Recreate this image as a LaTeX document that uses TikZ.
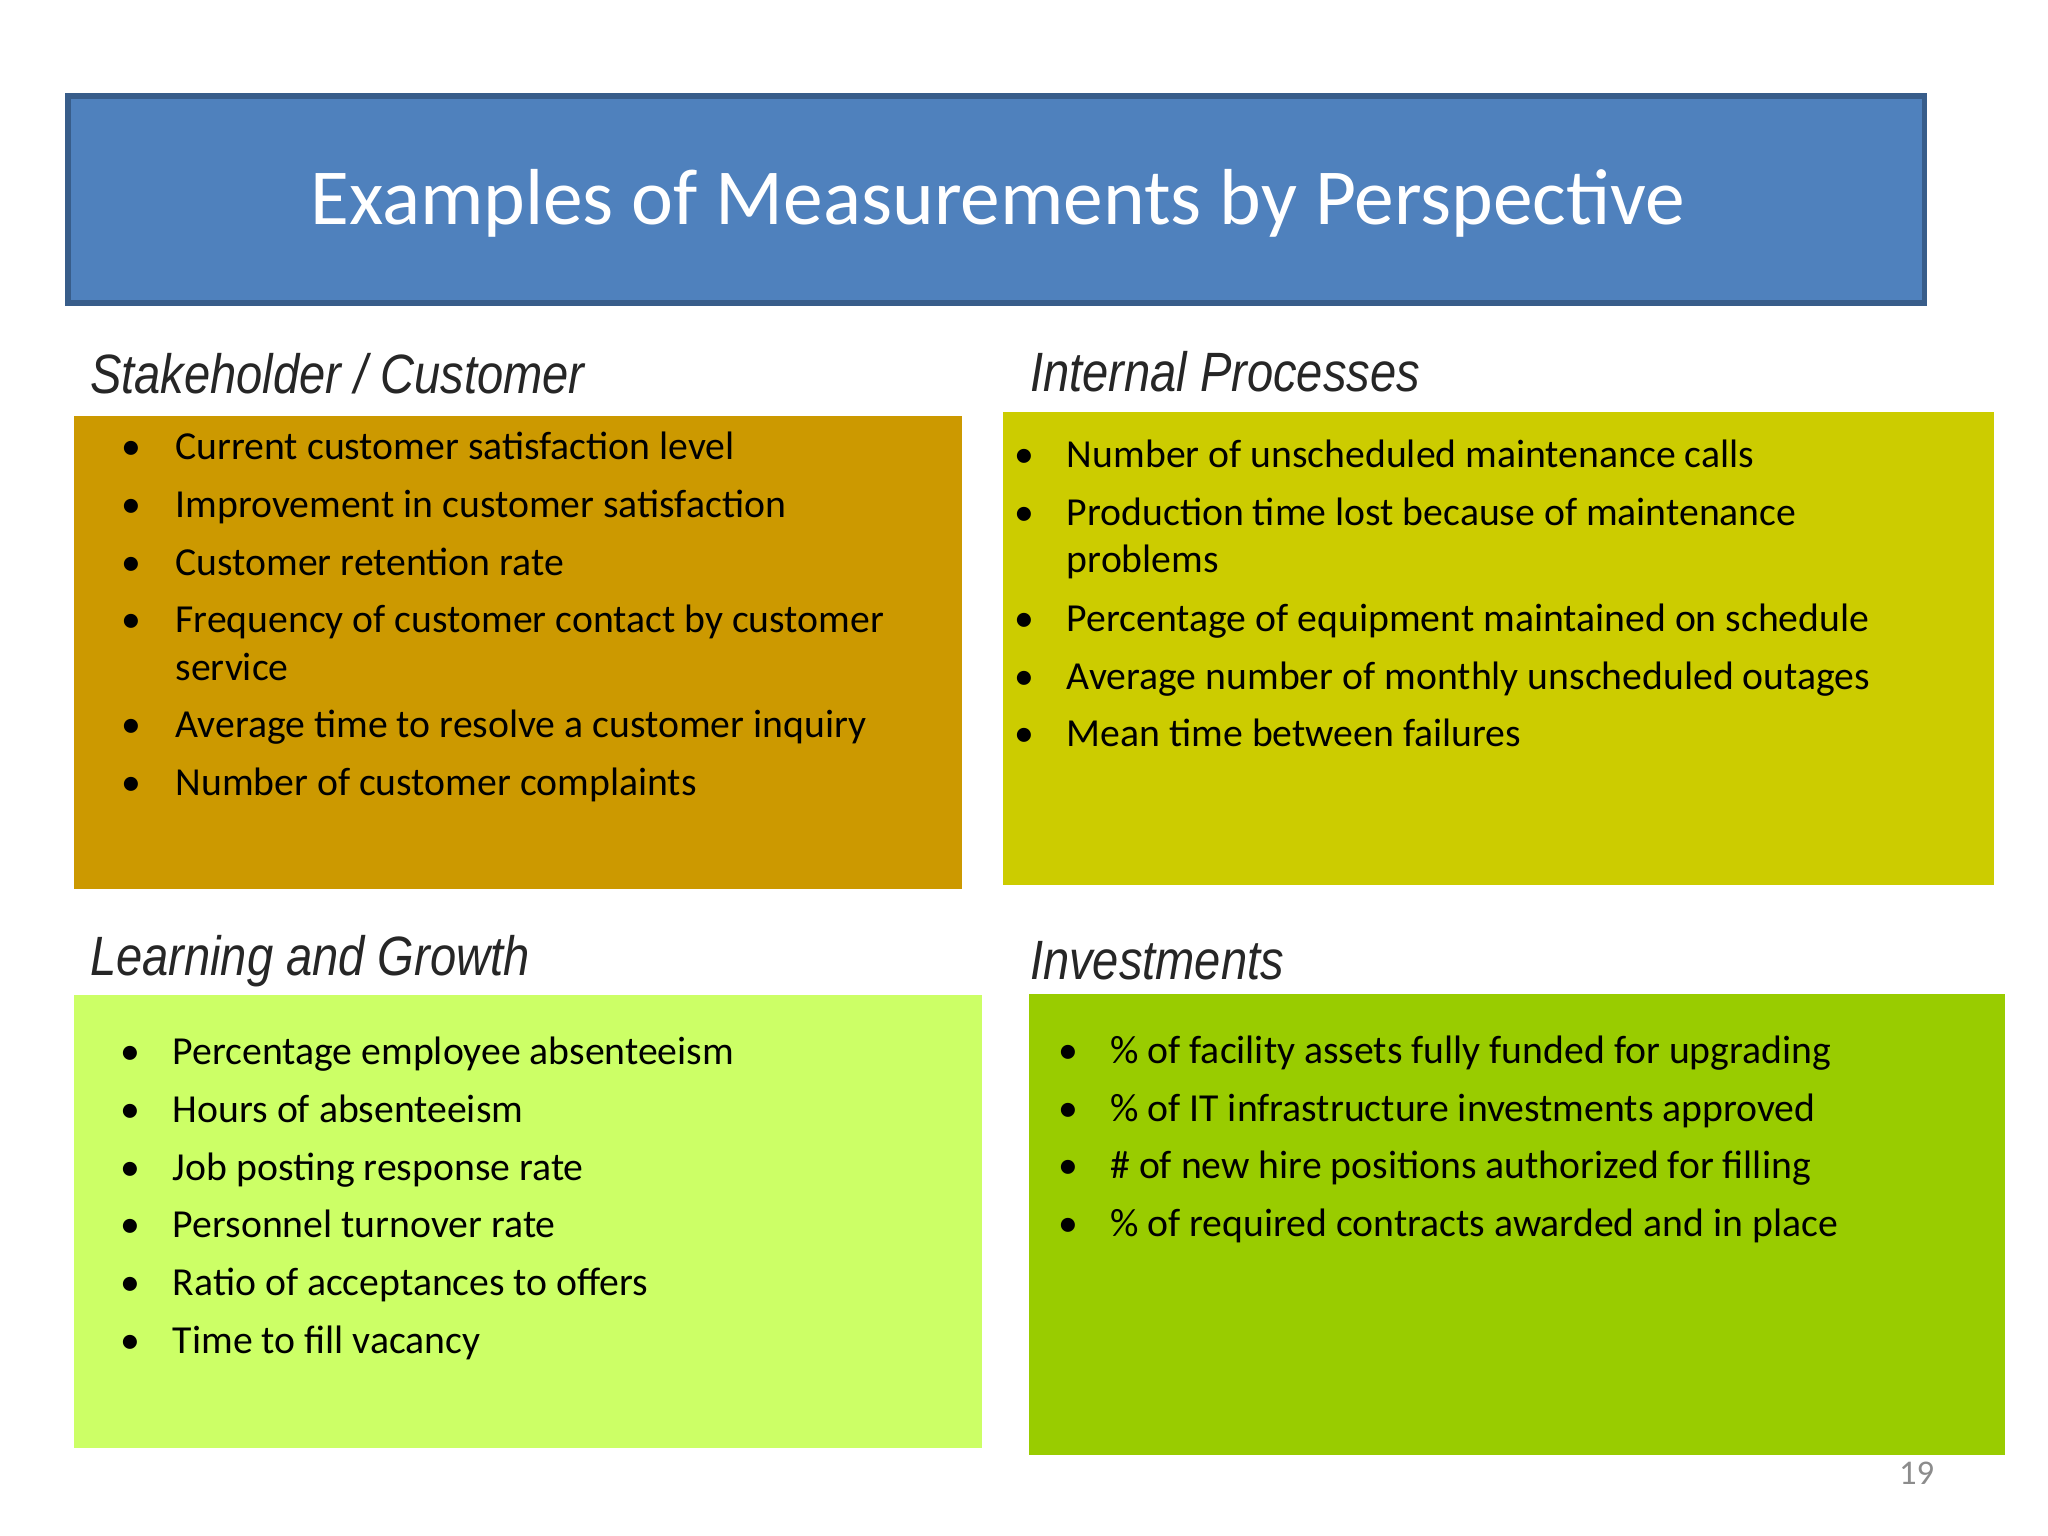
\documentclass[tikz,border=0pt]{standalone}
\usepackage{fontspec}
\setmainfont{Carlito}
\newfontfamily\headfont{Liberation Sans}
\usetikzlibrary{positioning,calc}
\definecolor{titleblue}{HTML}{4F81BD}
\definecolor{titleedge}{HTML}{385D8A}
\definecolor{goldbox}{HTML}{CC9900}
\definecolor{olivebox}{HTML}{CCCC00}
\definecolor{limebox}{HTML}{CCFF66}
\definecolor{greenbox}{HTML}{99CC00}
\tikzset{
  panel/.style={draw=none, fill=#1},
  heading/.style={anchor=base west, inner sep=0pt, font=\headfont\itshape\fontsize{12}{14}\selectfont, text=black!85, xscale=0.85},
  item/.style={anchor=base west, inner sep=0pt, font=\fontsize{8.6}{10.4}\selectfont},
  dot/.style={anchor=base, inner sep=0pt, font=\fontsize{8.6}{10.4}\selectfont}
}
\begin{document}
\begin{tikzpicture}[x=0.01cm,y=-0.01cm]
\useasboundingbox (0,0) rectangle (1560,1170);
\fill[white] (0,0) rectangle (1560,1170);

% title bar
\draw[titleedge, line width=1.2pt, fill=titleblue] (52,73) rectangle (1466,231);
\node[text=white, font=\fontsize{17.2}{20}\selectfont] (title) at (760,155) {Examples of Measurements by Perspective};

% panels
\fill[panel=goldbox] (56,317) rectangle (733,677);
\fill[panel=olivebox] (764,314) rectangle (1519,674);
\fill[panel=limebox] (56,758) rectangle (748,1103);
\fill[panel=greenbox] (784,757) rectangle (1527,1108);

% headings
\node[heading] (hstake) at (68,300) {Stakeholder / Customer};
\node[heading] (hint) at (784,298) {Internal Processes};
\node[heading] (hlearn) at (68,743) {Learning and Growth};
\node[heading] (hinv) at (784,746) {Investments};

% bullets: stakeholder / customer
\foreach \n/\y/\t in {1/350/Current customer satisfaction level,
    2/394/Improvement in customer satisfaction,
    3/438/Customer retention rate,
    4/482/Frequency of customer contact by customer,
    5/562/Average time to resolve a customer inquiry,
    6/606/Number of customer complaints}{
  \node[dot] (sd\n) at (100,\y) {\textbullet};
  \node[item] (s\n) at (133,\y) {\t};
}
\node[item] (s4b) at (133,518) {service};

% bullets: internal processes
\foreach \n/\y/\t in {1/356/Number of unscheduled maintenance calls,
    2/400/Production time lost because of maintenance,
    3/481/Percentage of equipment maintained on schedule,
    4/525/Average number of monthly unscheduled outages,
    5/569/Mean time between failures}{
  \node[dot] (pd\n) at (780,\y) {\textbullet};
  \node[item] (p\n) at (812,\y) {\t};
}
\node[item] (p2b) at (812,436) {problems};

% bullets: learning and growth
\foreach \n/\y/\t in {1/811/Percentage employee absenteeism,
    2/855/Hours of absenteeism,
    3/899/Job posting response rate,
    4/943/Personnel turnover rate,
    5/987/Ratio of acceptances to offers,
    6/1031/Time to fill vacancy}{
  \node[dot] (ld\n) at (99,\y) {\textbullet};
  \node[item] (l\n) at (131,\y) {\t};
}

% bullets: investments
\foreach \n/\y/\t in {1/810/\% of facility assets fully funded for upgrading,
    2/854/\% of IT infrastructure investments approved,
    3/898/\# of new hire positions authorized for filling,
    4/942/\% of required contracts awarded and in place}{
  \node[dot] (id\n) at (814,\y) {\textbullet};
  \node[item] (i\n) at (845,\y) {\t};
}

\node[text=black!45, font=\fontsize{7.5}{9}\selectfont] (page) at (1460,1122) {19};
\end{tikzpicture}
\end{document}
